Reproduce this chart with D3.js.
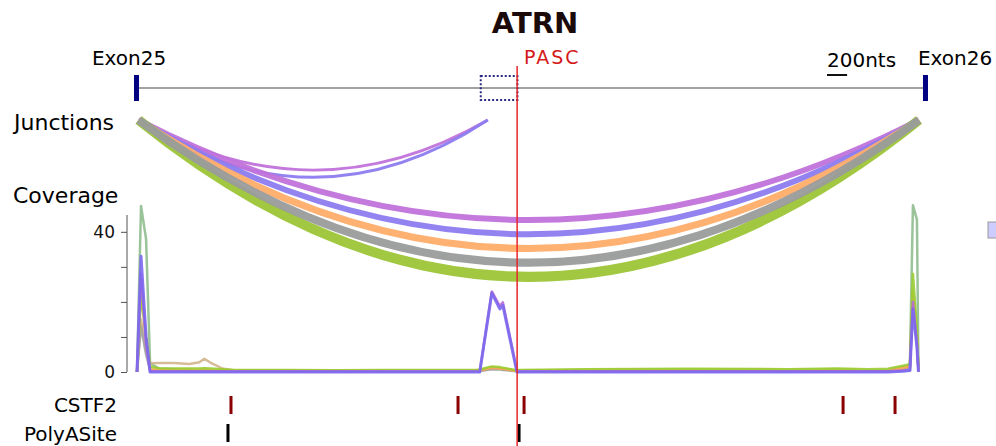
<!DOCTYPE html>
<html>
<head>
<meta charset="utf-8">
<script src="https://cdn.jsdelivr.net/npm/d3@7"></script>
<style>
  body { margin: 0; background: #fff; }
  svg { display: block; font-family: "DejaVu Sans", sans-serif; }
</style>
</head>
<body>
<svg width="996" height="446"></svg>
<script>
// gene model (nts from the start of Exon25)
var geneName   = "ATRN";
var exonNames  = ["Exon25", "Exon26"];
var exonStart  = [0, 7850];
var exonEnd    = [50, 7900];
var boxStart   = 3450;   // dotted region
var boxEnd     = 3815;
var pascPos    = 3812;
var scaleNts   = 200;

// junctions
var sampleColors   = ["#c172da", "#8c7cf0", "#ffad6a", "#9a9c9b", "#9cc536"];
var junctionFrom   = [45, 45, 45, 45, 45, 45, 45];
var junctionTo     = [3520, 3520, 7810, 7810, 7810, 7810, 7810];
var junctionSample = [0, 1, 0, 1, 2, 4, 3];
var junctionReads  = [8, 8, 16, 16, 19, 27, 22];

// coverage
var covPos = [30, 70, 120, 160, 250, 400, 550, 650, 700, 760, 880, 1000, 1500, 2000, 2500, 3000, 3400,
              3440, 3560, 3640, 3670, 3810, 3830, 4500, 5500, 6500, 7000, 7300, 7500, 7650, 7720, 7750, 7790, 7805];
var covSeagreen = [0, 47.4, 38, 2.5, 1.0, 0.8, 0.7, 0.6, 0.7, 0.6, 0.5, 0.4, 0.4, 0.3, 0.4, 0.4, 0.4,
                   0.5, 1.3, 1.1, 0.9, 0.3, 0.4, 0.6, 0.7, 0.6, 0.8, 0.5, 0.6, 1.4, 1.8, 47.6, 43.5, 1.0];
var covTan      = [0, 15, 6, 2.5, 2.6, 2.6, 2.3, 2.8, 3.8, 2.7, 1.0, 0.4, 0.3, 0.3, 0.3, 0.3, 0.3,
                   0.4, 1.0, 0.9, 0.8, 0.3, 0.3, 0.4, 0.4, 0.4, 0.5, 0.4, 0.4, 1.0, 1.6, 20, 9, 0.5];
var covGray     = [0, 13, 5, 0.5, 0.4, 0.4, 0.3, 0.3, 0.3, 0.3, 0.3, 0.3, 0.3, 0.2, 0.3, 0.3, 0.3,
                   0.3, 0.8, 0.7, 0.6, 0.2, 0.2, 0.3, 0.3, 0.3, 0.4, 0.3, 0.3, 0.8, 1.2, 22, 9, 0.4];
var covOrange   = [0, 25, 9, 0.8, 0.6, 0.6, 0.5, 0.5, 0.5, 0.5, 0.5, 0.5, 0.4, 0.4, 0.4, 0.4, 0.4,
                   0.5, 1.2, 1.0, 0.9, 0.3, 0.3, 0.5, 0.5, 0.4, 0.6, 0.4, 0.5, 1.2, 1.6, 23, 10, 0.5];
var covYgreen   = [0, 22, 10, 1.5, 1.1, 1.0, 1.0, 1.0, 1.1, 1.0, 0.8, 0.6, 0.6, 0.5, 0.6, 0.6, 0.6,
                   0.7, 1.6, 1.4, 1.2, 0.5, 0.6, 0.8, 0.9, 0.8, 1.0, 0.8, 0.9, 1.8, 2.2, 28, 12, 0.8];
var covOrchid   = [0, 28, 8, 0.2, 0.2, 0.2, 0.2, 0.2, 0.2, 0.2, 0.2, 0.2, 0.2, 0.2, 0.2, 0.2, 0.2,
                   0.1, 23.0, 18.8, 19.9, 0.4, 0.2, 0.2, 0.2, 0.2, 0.2, 0.2, 0.2, 0.4, 0.6, 20, 8, 0.2];
var covSlate    = [0, 33, 10, 0, 0, 0, 0, 0, 0, 0, 0, 0, 0, 0, 0, 0, 0,
                   0, 22.5, 18, 19, 0, 0, 0, 0, 0, 0, 0, 0, 0.2, 0.4, 18, 7, 0];
var covSeries = [covSeagreen, covTan, covGray, covOrange, covYgreen, covOrchid, covSlate];
var covColors = ["#8fbc8f", "#d2b48c", "#a3a3a3", "#ffa54f", "#9acd32", "#b86ad8", "#7b68ee"];
var covWidths = [2.5, 2.5, 2.5, 2.5, 2.5, 2.5, 3];
var covTicks  = [0, 10, 20, 30, 40];

// sites
var cstf2Pos     = [965, 3224, 3881, 7055, 7572];
var polyASitePos = [935, 3831];

var main = function () {
  var svg = d3.select('svg');

  var x = d3.scaleLinear().domain([0, 7900]).range([134, 928]);
  var y = d3.scaleLinear().domain([0, 44.8]).range([372, 215]);
  var w = d3.scaleLinear().domain([0, 30]).range([0, 11]);

  // title
  svg.append('text').attr('x', 535).attr('y', 33)
    .attr('text-anchor', 'middle').attr('font-size', 29).attr('font-weight', 'bold')
    .attr('fill', '#1a0a0a').text(geneName);

  // gene line + exons
  svg.append('line')
    .attr('x1', x(exonStart[0] + 25)).attr('x2', x(exonEnd[1] - 25))
    .attr('y1', 88).attr('y2', 88)
    .attr('stroke', '#444').attr('stroke-width', 1.2);
  svg.selectAll('rect.exon').data(exonStart).enter().append('rect')
    .attr('class', 'exon')
    .attr('x', function(d, i) { return x(d); })
    .attr('width', function(d, i) { return x(exonEnd[i]) - x(d); })
    .attr('y', 75).attr('height', 26)
    .attr('fill', '#000080');
  svg.selectAll('text.exon').data(exonNames).enter().append('text')
    .attr('class', 'exon')
    .attr('x', function(d, i) { return i == 0 ? 129 : 955; })
    .attr('y', 65).attr('text-anchor', 'middle').attr('font-size', 20)
    .text(function(d) { return d; });

  // dotted region
  svg.append('rect')
    .attr('x', x(boxStart)).attr('width', x(boxEnd) - x(boxStart))
    .attr('y', 76).attr('height', 24)
    .attr('fill', 'none').attr('stroke', '#2a2a80')
    .attr('stroke-width', 2).attr('stroke-dasharray', '2,2');

  // scale bar
  svg.append('text').attr('x', 827).attr('y', 67).attr('font-size', 20).text(scaleNts + 'nts');
  svg.append('line')
    .attr('x1', 827).attr('x2', 827 + x(scaleNts) - x(0))
    .attr('y1', 75).attr('y2', 75)
    .attr('stroke', '#111').attr('stroke-width', 2);

  // track labels
  svg.append('text').attr('x', 14).attr('y', 130).attr('font-size', 22).text('Junctions');
  svg.append('text').attr('x', 13).attr('y', 203).attr('font-size', 22).text('Coverage');

  // junction arcs
  var arcTop = 120;
  svg.selectAll('path.junction').data(junctionFrom).enter().append('path')
    .attr('class', 'junction')
    .attr('d', function(d, i) {
      var x0 = x(d), x1 = x(junctionTo[i]);
      var span = (x1 - x0) / 780;
      var dip = (100 + 14.2 * junctionSample[i]) * Math.pow(span, 0.86);
      var p = d3.path();
      p.moveTo(x0, arcTop);
      p.quadraticCurveTo((x0 + x1) / 2, arcTop + 2 * dip, x1, arcTop);
      return p.toString();
    })
    .attr('fill', 'none')
    .attr('stroke', function(d, i) { return sampleColors[junctionSample[i]]; })
    .attr('stroke-width', function(d, i) { return w(junctionReads[i]); })
    .attr('opacity', 0.95);

  // coverage axis
  var axis = d3.axisLeft(y).tickValues(covTicks).tickSize(6).tickSizeOuter(0).tickPadding(6)
    .tickFormat(function(d) { return (d == 0 || d == 40) ? d : ''; });
  var gAxis = svg.append('g').attr('transform', 'translate(127,0)').call(axis);
  gAxis.select('.domain').attr('stroke', '#555').attr('d', 'M0,' + y(44.8) + 'V' + y(0));
  gAxis.selectAll('line').attr('stroke', '#555');
  gAxis.selectAll('text').attr('font-size', 17).attr('font-family', 'DejaVu Sans').attr('fill', '#111');

  // coverage lines
  var line = d3.line()
    .x(function(d, i) { return x(covPos[i]); })
    .y(function(d) { return y(d); });
  svg.selectAll('path.cov').data(covSeries).enter().append('path')
    .attr('class', 'cov')
    .attr('d', line)
    .attr('fill', 'none')
    .attr('stroke', function(d, i) { return covColors[i]; })
    .attr('stroke-width', function(d, i) { return covWidths[i]; })
    .attr('stroke-linejoin', 'round')
    .attr('opacity', 0.9);

  // partial legend box at the right edge
  svg.append('rect').attr('x', 988).attr('y', 222).attr('width', 20).attr('height', 16)
    .attr('fill', '#ccccff').attr('stroke', '#999');

  // site tracks
  svg.append('text').attr('x', 117).attr('y', 412).attr('text-anchor', 'end').attr('font-size', 20).text('CSTF2');
  svg.append('text').attr('x', 117).attr('y', 441).attr('text-anchor', 'end').attr('font-size', 20).text('PolyASite');
  svg.selectAll('rect.cstf2').data(cstf2Pos).enter().append('rect')
    .attr('class', 'cstf2')
    .attr('x', function(d) { return x(d) - 1.5; }).attr('width', 3)
    .attr('y', 396).attr('height', 18)
    .attr('fill', '#8b0000');
  svg.selectAll('rect.pas').data(polyASitePos).enter().append('rect')
    .attr('class', 'pas')
    .attr('x', function(d) { return x(d) - 1.5; }).attr('width', 3)
    .attr('y', 424).attr('height', 18)
    .attr('fill', '#000');

  // PASC marker
  svg.append('line')
    .attr('x1', x(pascPos)).attr('x2', x(pascPos))
    .attr('y1', 66).attr('y2', 446)
    .attr('stroke', '#e8262a').attr('stroke-width', 1.5);
  svg.append('text').attr('x', 524).attr('y', 64).attr('font-size', 19)
    .attr('letter-spacing', 2).attr('fill', '#d41a1a').text('PASC');
};
main();
</script>
</body>
</html>
